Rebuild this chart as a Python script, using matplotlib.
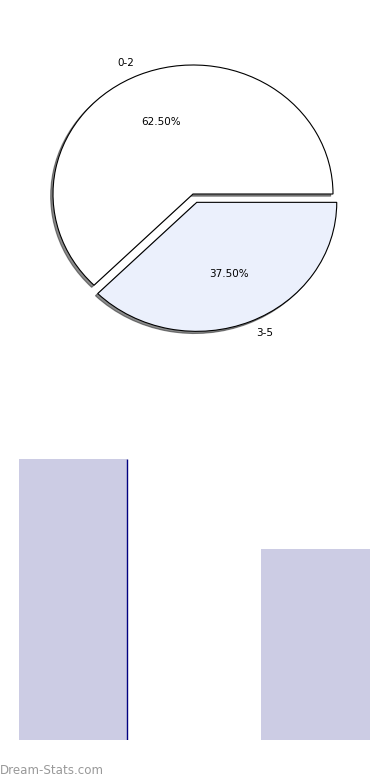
import matplotlib
matplotlib.use("Agg")
import matplotlib.pyplot as plt

# data
pie_labels = ["0-2", "3-5"]
pie_values = [62.5, 37.5]
pie_colors = ["#ffffff", "#ebf0fc"]
pie_explode = [0.0, 0.07]

bar_values = [62.5, 42.5]
bar_pos = [0, 1]

W, H = 390, 780
fig = plt.figure(figsize=(W / 100, H / 100), dpi=100)

# pie: centre ~(193,194) px, rx 140, ry 129
cx, cy, rx, ry = 193, 194, 140, 129
lim = 1.25
ax1 = fig.add_axes([(cx - lim * rx) / W, 1 - (cy + lim * ry) / H,
                    2 * lim * rx / W, 2 * lim * ry / H])
ax1.pie(pie_values, labels=pie_labels, colors=pie_colors, explode=pie_explode,
        autopct="%1.2f%%", startangle=0, counterclock=True,
        shadow=dict(ox=-0.012, oy=-0.012, shade=0.9),
        wedgeprops=dict(edgecolor="black", linewidth=0.8),
        textprops=dict(fontsize=7.5))
ax1.set_aspect("auto")
ax1.set_xlim(-lim, lim)
ax1.set_ylim(-lim, lim)

# bars
top, bottom = 459, 740
c0, step = 73, 242.5
ax2 = fig.add_axes([0, 1 - bottom / H, 1, (bottom - top) / H])
bars = ax2.bar(bar_pos, bar_values, width=0.446, color="#ccccE4")
b = bars[0]
ax2.vlines(b.get_x() + b.get_width(), 0, b.get_height(), color="#000080", lw=1)
ax2.set_xlim(-c0 / step, (W - c0) / step)
ax2.set_ylim(0, max(bar_values))
ax2.axis("off")

fig.text(0.0, 1 - 770 / H, "Dream-Stats.com", color="#999999", fontsize=8.6,
         ha="left", va="center")

fig.savefig("out.png", dpi=100)
